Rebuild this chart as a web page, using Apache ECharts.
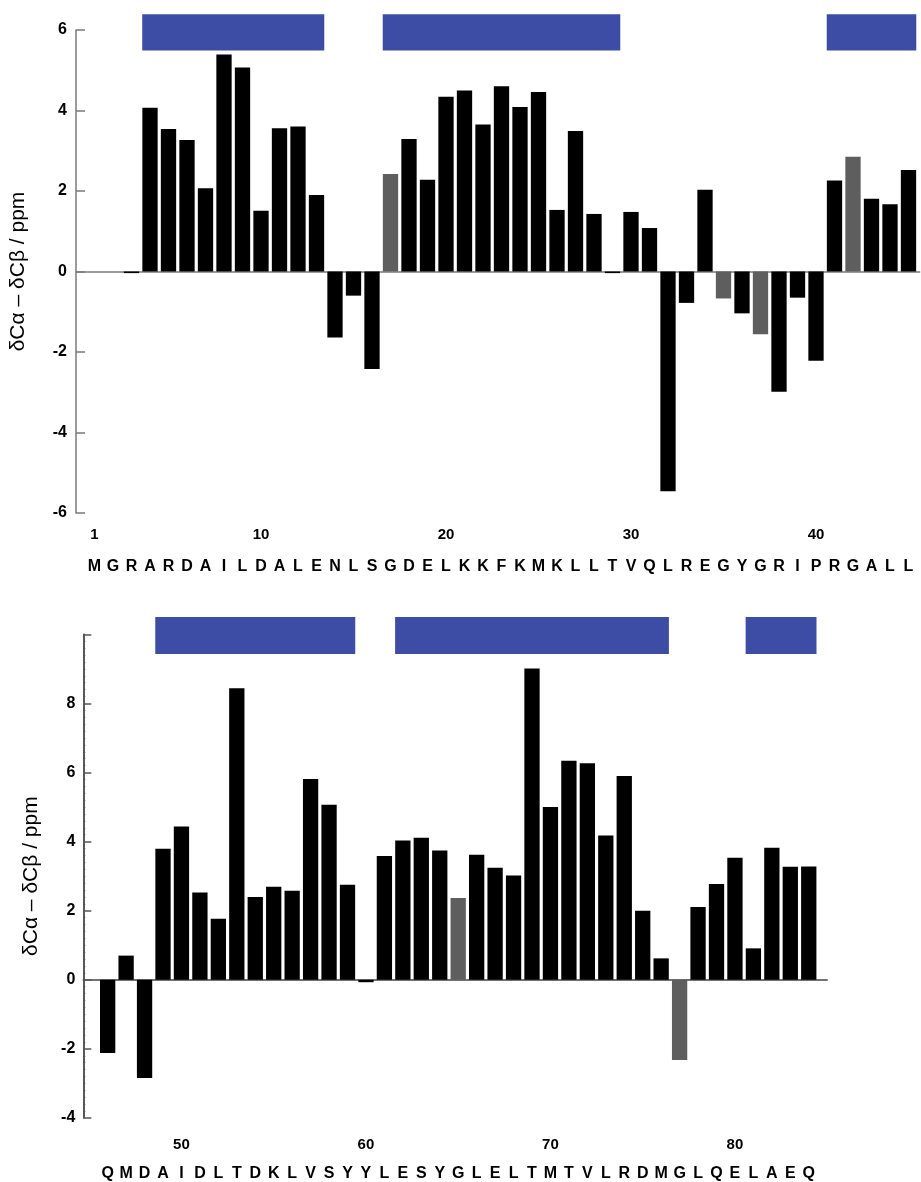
<!DOCTYPE html>
<html>
<head>
<meta charset="utf-8">
<title>ECharts</title>
<script src="https://cdn.jsdelivr.net/npm/echarts@6/dist/echarts.min.js"></script>
<style>html,body{margin:0;padding:0;background:#fff;}</style>
</head>
<body>
<div id="main" style="width:921px;height:1182px;"></div>
<script type="text/javascript">
// residues 1-45 (top) and 46-84 (bottom)
var topStart = 1;
var topSeq = ['M','G','R','A','R','D','A','I','L','D','A','L','E','N','L','S','G','D','E','L',
              'K','K','F','K','M','K','L','L','T','V','Q','L','R','E','G','Y','G','R','I','P',
              'R','G','A','L','L'];
var topShift = [null, null, -0.04, 4.07, 3.54, 3.27, 2.07, 5.39, 5.07, 1.51,
                3.56, 3.60, 1.90, -1.64, -0.60, -2.42, 2.42, 3.29, 2.28, 4.34,
                4.50, 3.65, 4.60, 4.09, 4.46, 1.53, 3.49, 1.43, -0.04, 1.48,
                1.08, -5.46, -0.78, 2.03, -0.67, -1.04, -1.56, -2.99, -0.65, -2.22,
                2.26, 2.85, 1.81, 1.67, 2.52];
var topHelices = [[4, 13], [17, 29], [41, 45]];
var topNumberTicks = [1, 10, 20, 30, 40];

var bottomStart = 46;
var bottomSeq = ['Q','M','D','A','I','D','L','T','D','K','L','V','S','Y','Y','L','E','S','Y','G',
                 'L','E','L','T','M','T','V','L','R','D','M','G','L','Q','E','L','A','E','Q'];
var bottomShift = [-2.12, 0.70, -2.84, 3.79, 4.44, 2.53, 1.77, 8.44, 2.40, 2.69,
                   2.58, 5.81, 5.07, 2.75, -0.07, 3.58, 4.03, 4.11, 3.74, 2.37,
                   3.62, 3.24, 3.02, 9.01, 5.00, 6.34, 6.27, 4.18, 5.90, 2.00,
                   0.62, -2.32, 2.11, 2.77, 3.53, 0.91, 3.82, 3.27, 3.28];
var bottomHelices = [[49, 59], [62, 76], [81, 84]];
var bottomNumberTicks = [50, 60, 70, 80];

// residues drawn in grey
var greyResidues = [17, 35, 37, 42, 65, 77];

var yName = 'δCα – δCβ / ppm';
var fontFamily = '"Liberation Sans", Arial, Helvetica, sans-serif';

function barData(start, values) {
    var out = [];
    values.forEach(function (v, i) {
        if (v === null) return;
        var res = start + i;
        out.push({
            value: [res, v],
            itemStyle: {color: greyResidues.indexOf(res) >= 0 ? '#5e5e5e' : '#000'}
        });
    });
    return out;
}

function residueList(start, n) {
    var out = [];
    for (var i = 0; i < n; i++) out.push(start + i);
    return out;
}

function helixSeries(xi, yi, helices, yLow, yHigh) {
    return {
        type: 'custom',
        xAxisIndex: xi,
        yAxisIndex: yi,
        clip: false,
        silent: true,
        data: helices,
        encode: {x: [0, 1]},
        renderItem: function (params, api) {
            var p0 = api.coord([api.value(0) - 0.42, yHigh]);
            var p1 = api.coord([api.value(1) + 0.42, yLow]);
            return {
                type: 'rect',
                shape: {x: p0[0], y: p0[1], width: p1[0] - p0[0], height: p1[1] - p0[1]},
                style: {fill: '#3d4da6'}
            };
        }
    };
}

function xAxes(gridIndex, min, max, seq, start, numberTicks, numMargin, seqMargin, lineColor) {
    return [
        {   // zero line
            gridIndex: gridIndex, type: 'value', min: min, max: max,
            axisLine: {show: true, onZero: true, lineStyle: {color: lineColor, width: 1.5}},
            axisTick: {show: false}, axisLabel: {show: false}, splitLine: {show: false}
        },
        {   // residue numbers
            gridIndex: gridIndex, type: 'value', min: min, max: max, position: 'bottom',
            axisLine: {show: false, onZero: false}, axisTick: {show: false}, splitLine: {show: false},
            axisLabel: {
                customValues: numberTicks, margin: numMargin,
                fontFamily: fontFamily, fontWeight: 'bold', fontSize: 15, color: '#000'
            }
        },
        {   // sequence letters
            gridIndex: gridIndex, type: 'value', min: min, max: max, position: 'bottom',
            axisLine: {show: false, onZero: false}, axisTick: {show: false}, splitLine: {show: false},
            axisLabel: {
                customValues: residueList(start, seq.length), margin: seqMargin,
                fontFamily: fontFamily, fontWeight: 'bold', fontSize: 16, color: '#000',
                formatter: function (v) { return seq[Math.round(v) - start] || ''; }
            }
        }
    ];
}

var myChart = echarts.init(document.getElementById('main'));

var option = {
    animation: false,
    backgroundColor: '#fff',
    grid: [
        {left: 76, top: 30, height: 483, width: 843.6},
        {left: 83.3, top: 634.3, height: 484.3, width: 743.9}
    ],
    xAxis: [].concat(
        xAxes(0, 0, 45.6, topSeq, topStart, topNumberTicks, 14, 46, '#7a7a7a'),
        xAxes(1, 44.68, 85, bottomSeq, bottomStart, bottomNumberTicks, 19, 48, '#444')
    ),
    yAxis: [
        {
            gridIndex: 0, type: 'value', min: -6, max: 6, interval: 2,
            name: yName, nameLocation: 'middle', nameGap: 47,
            nameTextStyle: {fontFamily: fontFamily, fontSize: 21, color: '#000'},
            axisLine: {show: true, onZero: false, lineStyle: {color: '#7a7a7a', width: 1.5}},
            axisTick: {show: true, inside: true, length: 9, lineStyle: {color: '#7a7a7a', width: 1.5}},
            axisLabel: {margin: 9, fontFamily: fontFamily, fontWeight: 'bold', fontSize: 16, color: '#000'},
            splitLine: {show: false}
        },
        {
            gridIndex: 1, type: 'value', min: -4, max: 10, interval: 2,
            name: yName, nameLocation: 'middle', nameGap: 42,
            nameTextStyle: {fontFamily: fontFamily, fontSize: 21, color: '#000'},
            axisLine: {show: true, onZero: false, lineStyle: {color: '#222', width: 1.5}},
            axisTick: {show: true, inside: true, length: 8, lineStyle: {color: '#555', width: 1.5}},
            minorTick: {show: true, splitNumber: 10, length: 2, lineStyle: {color: '#555'}},
            axisLabel: {
                margin: 8, fontFamily: fontFamily, fontWeight: 'bold', fontSize: 16, color: '#000',
                showMaxLabel: false
            },
            splitLine: {show: false}
        }
    ],
    series: [
        {
            type: 'bar', xAxisIndex: 0, yAxisIndex: 0, barWidth: 15.3,
            data: barData(topStart, topShift)
        },
        helixSeries(0, 0, topHelices, 5.49, 6.39),
        {
            type: 'bar', xAxisIndex: 3, yAxisIndex: 1, barWidth: 15.3,
            data: barData(bottomStart, bottomShift)
        },
        helixSeries(3, 1, bottomHelices, 9.43, 10.5)
    ]
};

myChart.setOption(option);
</script>
</body>
</html>
